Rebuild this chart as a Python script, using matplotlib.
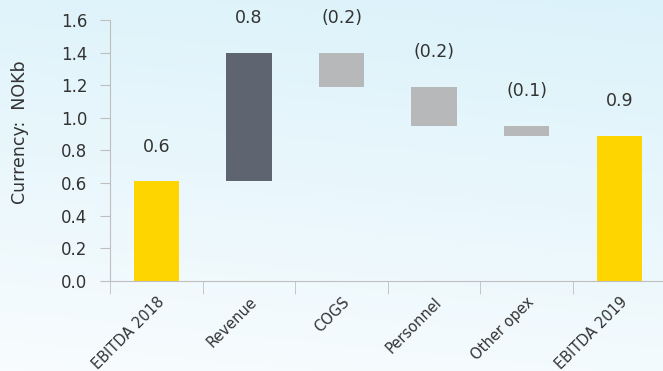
import numpy as np
import matplotlib
matplotlib.use('Agg')
import matplotlib.pyplot as plt
from matplotlib.colors import LinearSegmentedColormap

# Dados do gráfico (NOKb)
categories = ['EBITDA 2018', 'Revenue', 'COGS', 'Personnel', 'Other opex', 'EBITDA 2019']
start_value = 0.61
changes = [0.79, -0.21, -0.24, -0.06]
end_value = 0.89
value_labels = ['0.6', '0.8', '(0.2)', '(0.2)', '(0.1)', '0.9']
y_ticks = [0.0, 0.2, 0.4, 0.6, 0.8, 1.0, 1.2, 1.4, 1.6]

yellow = '#FFD500'
dark = '#5E6570'
light = '#B6B8BA'
text_col = '#333333'

# Calcular bases e alturas da cascata
bottoms = [0.0]
heights = [start_value]
colors = [yellow]
level = start_value
for c in changes:
    if c >= 0:
        bottoms.append(level)
        heights.append(c)
        colors.append(dark)
    else:
        bottoms.append(level + c)
        heights.append(-c)
        colors.append(light)
    level += c
bottoms.append(0.0)
heights.append(end_value)
colors.append(yellow)
tops = [b + h for b, h in zip(bottoms, heights)]

fig = plt.figure(figsize=(6.63, 3.71), dpi=100)

# Fundo em gradiente (céu claro)
bg = fig.add_axes([0, 0, 1, 1], zorder=0)
cmap = LinearSegmentedColormap.from_list('sky', ['#DCF2FA', '#E9F7FC', '#F8FCFE'])
yy = np.linspace(0, 1, 200)[:, None]
xx = np.linspace(0, 1, 200)[None, :]
grad = yy * 0.85 + (1 - xx) * 0.15
bg.imshow(grad, cmap=cmap, aspect='auto', extent=[0, 1, 0, 1], origin='upper')
bg.axis('off')

ax = fig.add_axes([0.166, 0.2434, 0.838, 0.7027], zorder=1)
ax.patch.set_alpha(0)

x = np.arange(len(categories))
ax.bar(x, heights, bottom=bottoms, color=colors, width=0.49, zorder=2)

for xi, t, lab in zip(x, tops, value_labels):
    ax.annotate(lab, (xi, t), xytext=(0, 25), textcoords='offset points',
                ha='center', va='center', fontsize=12.5, color=text_col)

ax.set_xlim(-0.5, 5.5)
ax.set_ylim(0, 1.6)
ax.set_yticks(y_ticks)
ax.set_yticklabels([f'{v:.1f}' for v in y_ticks], fontsize=12, color=text_col)
ax.tick_params(axis='y', length=7, color='#BFBFBF', pad=9.5)

ax.set_xticks(x)
ax.set_xticklabels(categories, rotation=45, ha='right', va='top',
                   rotation_mode='anchor', fontsize=10.5, color=text_col)
ax.tick_params(axis='x', which='major', length=0, pad=10)
ax.set_xticks(np.arange(-0.5, 5.5, 1.0), minor=True)
ax.tick_params(axis='x', which='minor', length=9, color='#BFBFBF')

for s in ['top', 'right']:
    ax.spines[s].set_visible(False)
for s in ['left', 'bottom']:
    ax.spines[s].set_color('#BFBFBF')

fig.text(20 / 663, 1 - 132 / 371, 'Currency:  NOKb', rotation=90,
         ha='center', va='center', fontsize=12.5, color=text_col)

plt.savefig('out.png', dpi=100)
plt.close('all')
